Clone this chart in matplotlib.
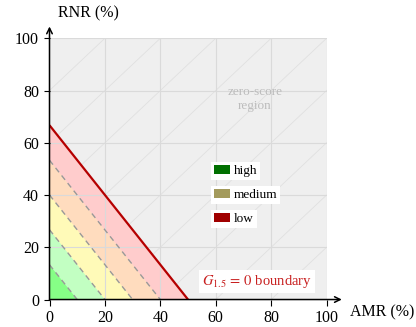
import matplotlib
matplotlib.use("Agg")
import matplotlib.pyplot as plt
from matplotlib.patches import Patch

plt.rcParams['font.family'] = ['Liberation Serif', 'DejaVu Serif']
plt.rcParams['mathtext.fontset'] = 'stix'

# ---- data ----
ticks = [0, 20, 40, 60, 80, 100]
band_amr = [50, 40, 30, 20, 10]            # x-intercepts of band boundaries
band_rnr = [66.7, 53.3, 40, 26.7, 13.3]    # y-intercepts of band boundaries
band_colors = ['#ffcccc', '#ffdcbe', '#fffab8', '#c2ffc2', '#86ff86']
legend_labels = ['high', 'medium', 'low']
legend_colors = ['#007000', '#a39a5c', '#a00000']
diag_offsets = [-100, -80, -60, -40, -20, 0, 20, 40, 60, 80]

fig = plt.figure(figsize=(4.16, 3.27), dpi=100)
ax = fig.add_axes([0.119, 0.084, 0.666, 0.799])
ax.set_xlim(0, 100)
ax.set_ylim(0, 100)
ax.set_facecolor('#efefef')

# faint diagonal hatching
for d in diag_offsets:
    ax.plot([0, 100], [d, d + 100], color='#e0e0e0', lw=0.6, zorder=0.8)

# bands (largest first)
for a, r, c in zip(band_amr, band_rnr, band_colors):
    ax.fill([0, a, 0], [0, 0, r], color=c, lw=0, zorder=1)

# grid
for t in ticks[1:]:
    ax.axvline(t, color='#dadada', lw=0.8, zorder=1.5)
    ax.axhline(t, color='#dadada', lw=0.8, zorder=1.5)

# dashed inner boundaries
for a, r in zip(band_amr[1:], band_rnr[1:]):
    ax.plot([0, a], [r, 0], color='#999999', lw=1, ls=(0, (4, 3)), zorder=3)

# main boundary
ax.plot([0, band_amr[0]], [band_rnr[0], 0], color='#b50000', lw=1.6, zorder=4,
        solid_capstyle='butt')

for s in ax.spines.values():
    s.set_visible(False)

# arrows as axes
ax.annotate('', xy=(105.5, 0), xytext=(0, 0), xycoords='data',
            arrowprops=dict(arrowstyle='->', color='black', lw=1.1,
                            shrinkA=0, shrinkB=0), annotation_clip=False, zorder=5)
ax.annotate('', xy=(0, 104.5), xytext=(0, 0), xycoords='data',
            arrowprops=dict(arrowstyle='->', color='black', lw=1.1,
                            shrinkA=0, shrinkB=0), annotation_clip=False, zorder=5)

ax.set_xticks(ticks)
ax.set_yticks(ticks)
ax.tick_params(direction='out', length=4.5, width=0.8, labelsize=11.5, pad=3)

ax.text(1.083, -0.05, 'AMR (%)', transform=ax.transAxes, fontsize=11.5,
        ha='left', va='center')
ax.text(0.14, 1.095, 'RNR (%)', transform=ax.transAxes, fontsize=11.5,
        ha='center', va='center')

ax.text(74.2, 76.8, 'zero-score\nregion', color='#bcbcbc', fontsize=9.5,
        ha='center', va='center', linespacing=1.25, zorder=2)

ax.text(74.8, 6.9, r'$G_{1.5}\,=\,0$ boundary', color='#c82020', fontsize=10.5,
        ha='center', va='center', zorder=6,
        bbox=dict(facecolor='white', edgecolor='none', pad=2))

ys = [0.492, 0.400, 0.308]
for lab, col, y in zip(legend_labels, legend_colors, ys):
    leg = ax.legend(handles=[Patch(facecolor=col, edgecolor='none', label=lab)],
                    loc='center left', bbox_to_anchor=(0.583, y),
                    frameon=True, fancybox=False, framealpha=1,
                    edgecolor='none', facecolor='white', borderpad=0.2,
                    handlelength=1.25, handleheight=0.7, handletextpad=0.3,
                    borderaxespad=0, fontsize=9.5)
    leg.set_zorder(7)
    ax.add_artist(leg)

fig.savefig('out.png', dpi=100)
